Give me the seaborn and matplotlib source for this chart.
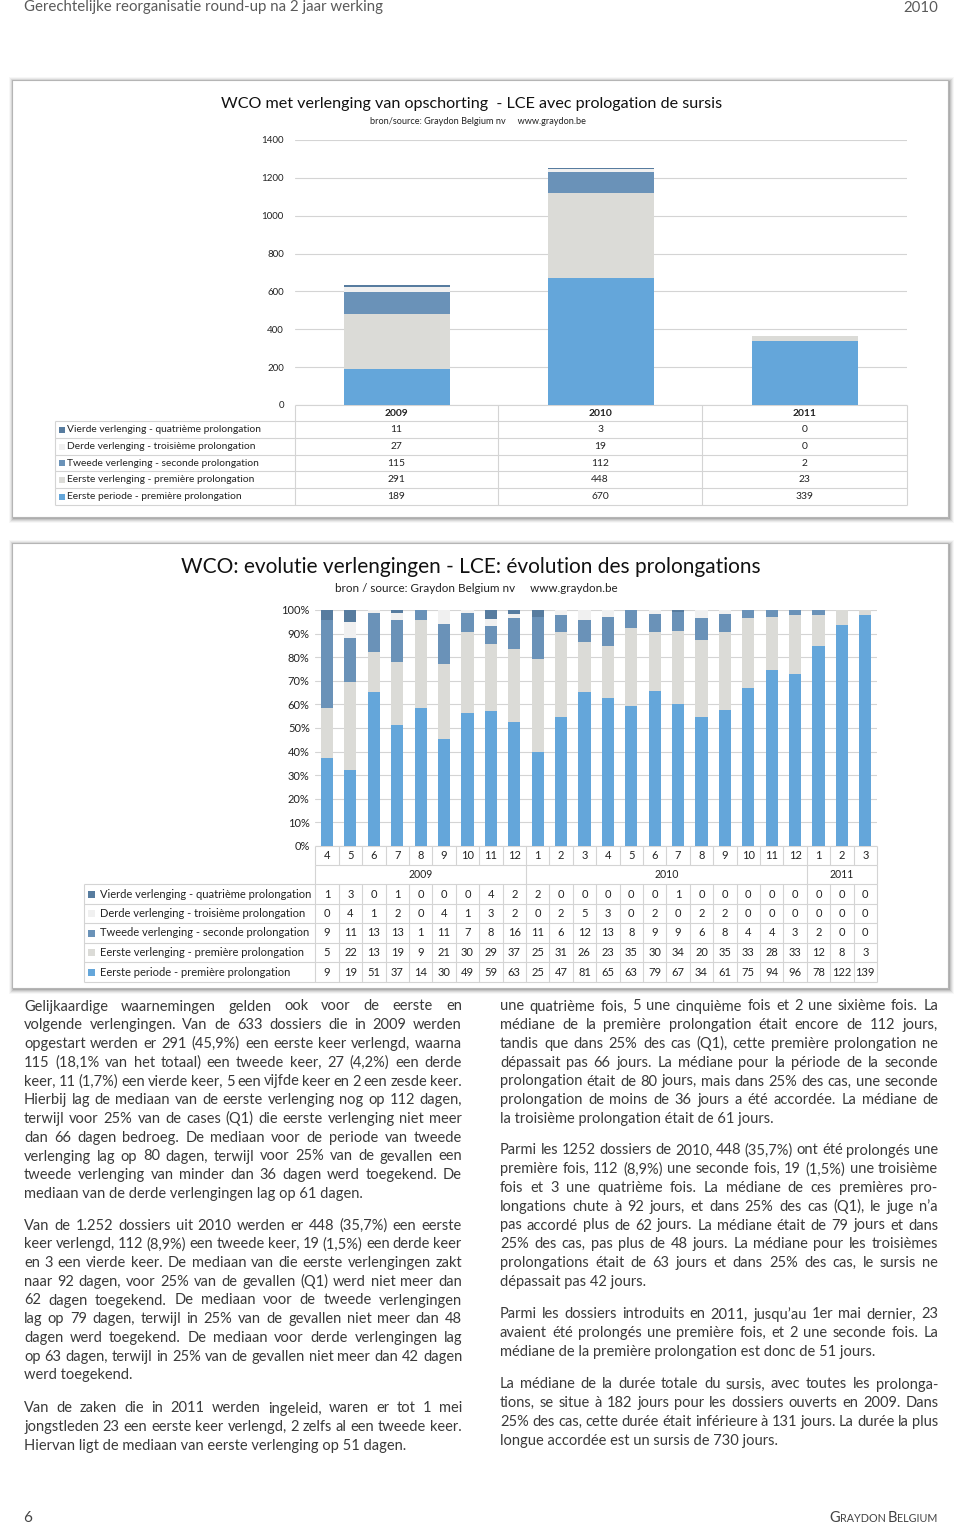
import matplotlib
matplotlib.use('Agg')
import matplotlib.pyplot as plt
import seaborn as sns
import numpy as np
import pandas as pd
from matplotlib.patches import Rectangle
from matplotlib import font_manager

# ---------------- data ----------------
series_labels = [
    "Eerste periode - première prolongation",
    "Eerste verlenging - première prolongation",
    "Tweede verlenging - seconde prolongation",
    "Derde verlenging - troisième prolongation",
    "Vierde verlenging - quatrième prolongation",
]
top_years = ["2009", "2010", "2011"]
top_eerste_periode = [189, 670, 339]
top_eerste_verlenging = [291, 448, 23]
top_tweede = [115, 112, 2]
top_derde = [27, 19, 0]
top_vierde = [11, 3, 0]

months = [4, 5, 6, 7, 8, 9, 10, 11, 12, 1, 2, 3, 4, 5, 6, 7, 8, 9, 10, 11, 12, 1, 2, 3]
month_years = ["2009"] * 9 + ["2010"] * 12 + ["2011"] * 3
m_eerste_periode = [9, 19, 51, 37, 14, 30, 49, 59, 63, 25, 47, 81, 65, 63, 79, 67, 34, 61, 75, 94, 96, 78, 122, 139]
m_eerste_verlenging = [5, 22, 13, 19, 9, 21, 30, 29, 37, 25, 31, 26, 23, 35, 30, 34, 20, 35, 33, 28, 33, 12, 8, 3]
m_tweede = [9, 11, 13, 13, 1, 11, 7, 8, 16, 11, 6, 12, 13, 8, 9, 9, 6, 8, 4, 4, 3, 2, 0, 0]
m_derde = [0, 4, 1, 2, 0, 4, 1, 3, 2, 0, 2, 5, 3, 0, 2, 0, 2, 2, 0, 0, 0, 0, 0, 0]
m_vierde = [1, 3, 0, 1, 0, 0, 0, 4, 2, 2, 0, 0, 0, 0, 0, 1, 0, 0, 0, 0, 0, 0, 0, 0]

header_left = "Gerechtelijke reorganisatie round-up na 2 jaar werking"
header_right = "2010"
title1 = "WCO met verlenging van opschorting  - LCE avec prologation de sursis"
sub1 = "bron/source: Graydon Belgium nv     www.graydon.be"
title2 = "WCO: evolutie verlengingen - LCE: évolution des prolongations"
sub2 = "bron / source: Graydon Belgium nv     www.graydon.be"

left_paragraphs = [
    ["Gelijkaardige waarnemingen gelden ook voor de eerste en",
     "volgende verlengingen. Van de 633 dossiers die in 2009 werden",
     "opgestart werden er 291 (45,9%) een eerste keer verlengd, waarna",
     "115 (18,1% van het totaal) een tweede keer, 27 (4,2%) een derde",
     "keer, 11 (1,7%) een vierde keer, 5 een vijfde keer en 2 een zesde keer.",
     "Hierbij lag de mediaan van de eerste verlenging nog op 112 dagen,",
     "terwijl voor 25% van de cases (Q1) die eerste verlenging niet meer",
     "dan 66 dagen bedroeg. De mediaan voor de periode van tweede",
     "verlenging lag op 80 dagen, terwijl voor 25% van de gevallen een",
     "tweede verlenging van minder dan 36 dagen werd toegekend. De",
     "mediaan van de derde verlengingen lag op 61 dagen."],
    ["Van de 1.252 dossiers uit 2010 werden er 448 (35,7%) een eerste",
     "keer verlengd, 112 (8,9%) een tweede keer, 19 (1,5%) een derde keer",
     "en 3 een vierde keer. De mediaan van die eerste verlengingen zakt",
     "naar 92 dagen, voor 25% van de gevallen (Q1) werd niet meer dan",
     "62 dagen toegekend. De mediaan voor de tweede verlengingen",
     "lag op 79 dagen, terwijl in 25% van de gevallen niet meer dan 48",
     "dagen werd toegekend. De mediaan voor derde verlengingen lag",
     "op 63 dagen, terwijl in 25% van de gevallen niet meer dan 42 dagen",
     "werd toegekend."],
    ["Van de zaken die in 2011 werden ingeleid, waren er tot 1 mei",
     "jongstleden 23 een eerste keer verlengd, 2 zelfs al een tweede keer.",
     "Hiervan ligt de mediaan van eerste verlenging op 51 dagen."],
]
right_paragraphs = [
    ["une quatrième fois, 5 une cinquième fois et 2 une sixième fois. La",
     "médiane de la première prolongation était encore de 112 jours,",
     "tandis que dans 25% des cas (Q1), cette première prolongation ne",
     "dépassait pas 66 jours. La médiane pour la période de la seconde",
     "prolongation était de 80 jours, mais dans 25% des cas, une seconde",
     "prolongation de moins de 36 jours a été accordée. La médiane de",
     "la troisième prolongation était de 61 jours."],
    ["Parmi les 1252 dossiers de 2010, 448 (35,7%) ont été prolongés une",
     "première fois, 112 (8,9%) une seconde fois, 19 (1,5%) une troisième",
     "fois et 3 une quatrième fois. La médiane de ces premières pro-",
     "longations chute à 92 jours, et dans 25% des cas (Q1), le juge n’a",
     "pas accordé plus de 62 jours. La médiane était de 79 jours et dans",
     "25% des cas, pas plus de 48 jours. La médiane pour les troisièmes",
     "prolongations était de 63 jours et dans 25% des cas, le sursis ne",
     "dépassait pas 42 jours."],
    ["Parmi les dossiers introduits en 2011, jusqu’au 1er mai dernier, 23",
     "avaient été prolongés une première fois, et 2 une seconde fois. La",
     "médiane de la première prolongation est donc de 51 jours."],
    ["La médiane de la durée totale du sursis, avec toutes les prolonga-",
     "tions, se situe à 182 jours pour les dossiers ouverts en 2009. Dans",
     "25% des cas, cette durée était inférieure à 131 jours. La durée la plus",
     "longue accordée est un sursis de 730 jours."],
]
left_par_y = [1006, 1225, 1408]
right_par_y = [1006, 1150, 1314, 1384]
page_number = "6"

# ---------------- style ----------------
sns.set_theme(style="white")
avail = {f.name for f in font_manager.fontManager.ttflist}
FONT = next((f for f in ["Lato", "Open Sans", "Noto Sans", "DejaVu Sans"] if f in avail), "DejaVu Sans")
plt.rcParams["font.family"] = [FONT, "DejaVu Sans"]

colors = ["#64A6DA", "#DBDBD7", "#6A92B8", "#F0F0F0", "#577C9F"]
GRID = "#D4D4D4"
TXT = "#3A3A3A"

W, H = 960, 1526
fig = plt.figure(figsize=(W / 100, H / 100), dpi=100)
fig.patch.set_facecolor("white")
page = fig.add_axes([0, 0, 1, 1])
page.set_xlim(0, W)
page.set_ylim(H, 0)
page.axis("off")
page.set_zorder(0)
renderer = fig.canvas.get_renderer()


def axes_px(x0, y0, x1, y1):
    ax = fig.add_axes([x0 / W, 1 - y1 / H, (x1 - x0) / W, (y1 - y0) / H])
    ax.set_zorder(2)
    ax.patch.set_visible(False)
    return ax


_cache = {}


def measure(s, **kw):
    key = (s, tuple(sorted(kw.items())))
    if key not in _cache:
        t = page.text(0, 0, s, fontsize=10, **kw)
        _cache[key] = t.get_window_extent(renderer).width
        t.remove()
    return _cache[key]


def fit_size(s, width, **kw):
    return 10 * width / measure(s, **kw)


def panel(x0, y0, x1, y1):
    for i, a in [(5, 0.03), (4, 0.05), (3, 0.07), (2, 0.09), (1, 0.12)]:
        page.add_patch(Rectangle((x0 - i + 1.5, y0 - i + 1.5), (x1 - x0) + 2 * i - 1, (y1 - y0) + 2 * i - 1,
                                 facecolor="black", alpha=a, edgecolor="none", zorder=0))
    page.add_patch(Rectangle((x0, y0), x1 - x0, y1 - y0, facecolor="white", edgecolor="#B5B5B5", lw=0.8, zorder=1))


def hline(y, x0, x1):
    page.plot([x0, x1], [y, y], color=GRID, lw=0.8, zorder=3, solid_capstyle="butt")


def vline(x, y0, y1):
    page.plot([x, x], [y0, y1], color=GRID, lw=0.8, zorder=3, solid_capstyle="butt")


def stacked(ax, keys, layers, width):
    cum = np.cumsum(np.array(layers, dtype=float), axis=0)
    for k in range(len(layers) - 1, -1, -1):
        df = pd.DataFrame({"cat": keys, "val": cum[k]})
        sns.barplot(data=df, x="cat", y="val", order=keys, color=colors[k], saturation=1,
                    width=width, errorbar=None, linewidth=0, ax=ax)
    ax.set_xlabel("")
    ax.set_ylabel("")
    ax.set_xticks([])
    for sp in ax.spines.values():
        sp.set_visible(False)
    ax.set_axisbelow(True)
    ax.yaxis.grid(True, color=GRID, lw=0.8)
    ax.tick_params(axis="y", length=0, colors="#222222")


# ---------------- header ----------------
hs = fit_size(header_left, 360)
page.text(24, 11.5, header_left, fontsize=hs, color="#5A5A5A", va="baseline", ha="left")
page.text(938, 11.5, header_right, fontsize=hs, color="#5A5A5A", va="baseline", ha="right")

# ---------------- panel 1 ----------------
panel(12, 80, 948, 517)
page.text(472, 104, title1, fontsize=fit_size(title1, 501), color="#111111", ha="center", va="center", zorder=4)
page.text(478, 121, sub1, fontsize=fit_size(sub1, 215), color="#222222", ha="center", va="center", zorder=4)

ax1 = axes_px(295, 140, 907, 405)
stacked(ax1, top_years, [top_eerste_periode, top_eerste_verlenging, top_tweede, top_derde, top_vierde], 0.515)
ax1.set_ylim(0, 1400)
ax1.set_xlim(-0.5, 2.5)
ax1.set_yticks(range(0, 1401, 200))
ax1.set_yticklabels([str(v) for v in range(0, 1401, 200)], fontsize=7)
ax1.tick_params(axis="y", pad=8)

# table 1
t1_cols = [295, 498, 702, 907]
t1_rows = [405, 421, 438, 455, 471, 488, 505]
lab_size1 = fit_size(series_labels[4], 195)
hline(405, 295, 907)
for y in t1_rows[1:]:
    hline(y, 55, 907)
vline(55, 421, 505)
for x in t1_cols:
    vline(x, 405, 505)
for j, yr in enumerate(top_years):
    page.text((t1_cols[j] + t1_cols[j + 1]) / 2, 413.5, yr, fontsize=lab_size1, fontweight="bold",
              ha="center", va="center", color="#222222", zorder=4)
top_layers = [top_eerste_periode, top_eerste_verlenging, top_tweede, top_derde, top_vierde]
for r, k in enumerate([4, 3, 2, 1, 0]):
    yc = (t1_rows[r + 1] + t1_rows[r + 2]) / 2
    page.add_patch(Rectangle((58.5, yc - 3), 6, 6, facecolor=colors[k], edgecolor="none", zorder=4))
    page.text(67, yc, series_labels[k], fontsize=lab_size1, ha="left", va="center", color="#222222", zorder=4)
    for j in range(3):
        page.text((t1_cols[j] + t1_cols[j + 1]) / 2, yc, str(top_layers[k][j]), fontsize=lab_size1,
                  ha="center", va="center", color="#222222", zorder=4)

# ---------------- panel 2 ----------------
panel(12, 543, 948, 988)
page.text(471, 567, title2, fontsize=fit_size(title2, 579), color="#111111", ha="center", va="center", zorder=4)
page.text(476, 588, sub2, fontsize=fit_size(sub2, 281), color="#222222", ha="center", va="center", zorder=4)

X2L, X2R = 315.3, 877.0
n = len(months)
cw = (X2R - X2L) / n
keys = [f"{y}-{m}" for y, m in zip(month_years, months)]
layers2 = np.array([m_eerste_periode, m_eerste_verlenging, m_tweede, m_derde, m_vierde], dtype=float)
pct = layers2 / layers2.sum(axis=0) * 100

ax2 = axes_px(X2L, 610, X2R, 846)
stacked(ax2, keys, list(pct), 0.52)
ax2.set_ylim(0, 100)
ax2.set_xlim(-0.5, n - 0.5)
ax2.set_yticks(range(0, 101, 10))
ax2.set_yticklabels([f"{v}%" for v in range(0, 101, 10)], fontsize=8)
ax2.tick_params(axis="y", pad=4)

# table 2
lab_size2 = fit_size(series_labels[4], 210)
bounds = [X2L + i * cw for i in range(n + 1)]
r2 = [846, 865, 884, 904, 923, 943, 962, 982]
hline(846, X2L, X2R)
hline(865, X2L, X2R)
for y in r2[2:]:
    hline(y, 84, X2R)
vline(84, 884, 982)
for x in bounds:
    vline(x, 846, 865)
    vline(x, 884, 982)
year_bounds = [0, 9, 21, 24]
for b in year_bounds:
    vline(bounds[b], 865, 884)
for i, m in enumerate(months):
    page.text(bounds[i] + cw / 2, 855.5, str(m), fontsize=lab_size2, ha="center", va="center", color="#222222", zorder=4)
for j, yr in enumerate(["2009", "2010", "2011"]):
    xc = (bounds[year_bounds[j]] + bounds[year_bounds[j + 1]]) / 2
    page.text(xc, 874.5, yr, fontsize=lab_size2 * 0.95, ha="center", va="center", color="#222222", zorder=4)
for r, k in enumerate([4, 3, 2, 1, 0]):
    yc = (r2[r + 2] + r2[r + 3]) / 2
    page.add_patch(Rectangle((88, yc - 3.5), 7, 7, facecolor=colors[k], edgecolor="none", zorder=4))
    page.text(100, yc, series_labels[k], fontsize=lab_size2, ha="left", va="center", color="#222222", zorder=4)
    for i in range(n):
        page.text(bounds[i] + cw / 2, yc, str(int(layers2[k][i])), fontsize=lab_size2,
                  ha="center", va="center", color="#222222", zorder=4)

# ---------------- body text (justified) ----------------
LINE = 18.75
COLW = 438
MIN_GAP = 2.8


def words_width(line):
    return sum(measure(w) for w in line.split())


fits = []
for pars in (left_paragraphs, right_paragraphs):
    for par in pars:
        for line in par[:-1]:
            nw = len(line.split())
            fits.append(10 * (COLW - (nw - 1) * MIN_GAP) / words_width(line))
BODY = min(10.8, min(fits))


def draw_column(pars, ys, x0):
    for par, y0 in zip(pars, ys):
        for i, line in enumerate(par):
            yb = y0 + i * LINE + 4.5
            if i == len(par) - 1:
                page.text(x0, yb, line, fontsize=BODY, ha="left", va="baseline", color=TXT, zorder=4)
                continue
            ws = line.split()
            widths = [measure(w) * BODY / 10 for w in ws]
            gap = (COLW - sum(widths)) / (len(ws) - 1)
            x = x0
            for w, wd in zip(ws, widths):
                page.text(x, yb, w, fontsize=BODY, ha="left", va="baseline", color=TXT, zorder=4)
                x += wd + gap


draw_column(left_paragraphs, left_par_y, 24)
draw_column(right_paragraphs, right_par_y, 500)

# ---------------- footer ----------------
page.text(23, 1522, page_number, fontsize=11, ha="left", va="baseline", color="#444444")
pieces = [("G", 10), ("RAYDON ", 7.3), ("B", 10), ("ELGIUM", 7.3)]
tot = sum(measure(p) * s / 10 for p, s in pieces)
scale = 108 / tot
x = 937 - 108
for p, s in pieces:
    page.text(x, 1522, p, fontsize=s * scale, ha="left", va="baseline", color="#444444")
    x += measure(p) * s * scale / 10

fig.savefig("out.png", dpi=100, facecolor="white")
